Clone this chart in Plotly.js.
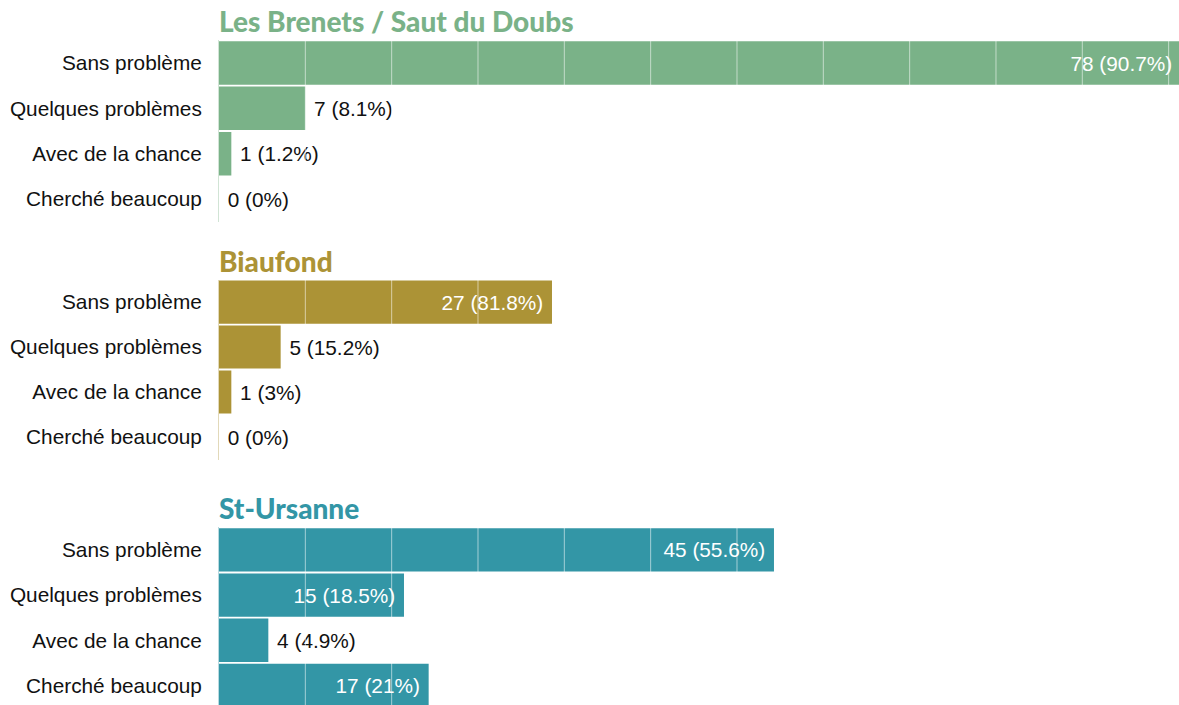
<!DOCTYPE html>
<html>
<head>
<meta charset="utf-8">
<script src="https://cdn.plot.ly/plotly-3.0.1.min.js"></script>
<style>html,body{margin:0;padding:0;background:#fff;}#chart{width:1179px;height:705px;}</style>
</head>
<body>
<div id="chart"></div>
<script>
// ---- data ----
const categories = ["Sans problème", "Quelques problèmes", "Avec de la chance", "Cherché beaucoup"];
const panelTitles = ["Les Brenets / Saut du Doubs", "Biaufond", "St-Ursanne"];
const brenetsCounts = [78, 7, 1, 0];
const brenetsPct = ["90.7%", "8.1%", "1.2%", "0%"];
const biaufondCounts = [27, 5, 1, 0];
const biaufondPct = ["81.8%", "15.2%", "3%", "0%"];
const ursanneCounts = [45, 15, 4, 17];
const ursannePct = ["55.6%", "18.5%", "4.9%", "21%"];
const gridStep = 7;

// ---- styling ----
const FONT = "Liberation Sans, Arial, sans-serif";
const FS = 20.8;
const colors = ["#7ab288", "#ac9336", "#3396a6"];
const lineColors = ["rgba(122,178,136,0.35)", "rgba(172,147,54,0.35)", "rgba(51,150,166,0.35)"];
const domains = [[0.6855, 0.9428], [0.3482, 0.6035], [0, 0.2521]];
const yRanges = [[3.5, -0.5], [3.5, -0.5], [3.43, -0.5]];
const xMax = 77.84;
const insideMin = 10; // labels go inside bars of at least this length

const countsList = [brenetsCounts, biaufondCounts, ursanneCounts];
const pctList = [brenetsPct, biaufondPct, ursannePct];
const NB = "\u00a0";

const traces = [];
const layout = {
  width: 1179, height: 705,
  margin: {l: 219, r: 0, t: 0, b: 0},
  paper_bgcolor: "#fff", plot_bgcolor: "#fff",
  showlegend: false,
  bargap: 0.04,
  font: {family: FONT, size: FS, color: "#111"},
  annotations: [],
  shapes: []
};

countsList.forEach((counts, i) => {
  const xa = i === 0 ? "x" : "x" + (i + 1);
  const ya = i === 0 ? "y" : "y" + (i + 1);
  const labels = counts.map((c, j) => c + " (" + pctList[i][j] + ")");
  traces.push({
    type: "bar", orientation: "h",
    x: counts, y: categories,
    xaxis: xa, yaxis: ya,
    text: labels,
    texttemplate: NB + "%{text}" + NB,
    textposition: counts.map(c => c >= insideMin ? "inside" : "outside"),
    insidetextanchor: "end",
    constraintext: "none",
    insidetextfont: {color: "#fff", size: FS, family: FONT},
    outsidetextfont: {color: "#111", size: FS, family: FONT},
    marker: {color: colors[i], line: {width: 0}},
    cliponaxis: true,
    hoverinfo: "none"
  });
  const xKey = i === 0 ? "xaxis" : "xaxis" + (i + 1);
  const yKey = i === 0 ? "yaxis" : "yaxis" + (i + 1);
  layout[xKey] = {
    domain: [0, 1], anchor: ya, range: [0, xMax],
    showgrid: false, zeroline: false, showticklabels: false, ticks: "", fixedrange: true
  };
  layout[yKey] = {
    domain: domains[i], anchor: xa, range: yRanges[i],
    type: "category", categoryorder: "array", categoryarray: categories,
    showgrid: false, zeroline: false, ticks: "",
    showline: true, linecolor: lineColors[i], linewidth: 1,
    ticklabelstandoff: 12,
    tickfont: {size: FS, color: "#111", family: FONT},
    fixedrange: true
  };
  for (let g = gridStep; g < xMax; g += gridStep) {
    layout.shapes.push({
      type: "line", layer: "above",
      xref: xa, yref: ya + " domain",
      x0: g, x1: g, y0: 0, y1: 1,
      line: {color: "rgba(255,255,255,0.55)", width: 1}
    });
  }
  layout.annotations.push({
    text: panelTitles[i],
    xref: "paper", yref: "paper",
    x: 0, y: domains[i][1],
    xanchor: "left", yanchor: "bottom",
    xshift: -2, yshift: 0,
    showarrow: false,
    font: {family: "Lato, sans-serif", size: 28, weight: 900, color: colors[i]}
  });
});

Plotly.newPlot("chart", traces, layout, {displayModeBar: false, staticPlot: true});
</script>
</body>
</html>
